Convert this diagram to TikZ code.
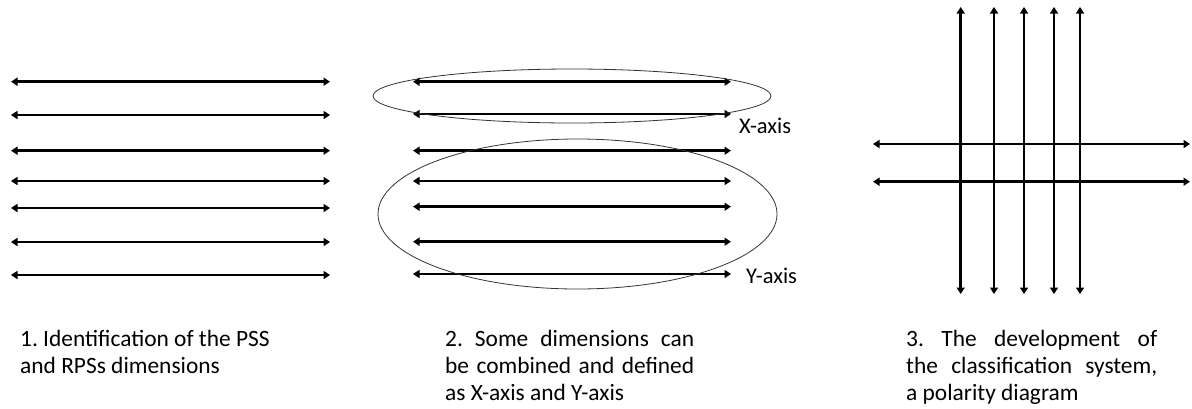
\documentclass[tikz,border=0pt]{standalone}
\usepackage{fontspec}
\setmainfont{Carlito}
\frenchspacing
\usetikzlibrary{arrows.meta}
\begin{document}
\begin{tikzpicture}[x=1pt,y=-1pt,
  dblarrow/.style={line width=2.6pt,{Triangle[length=6.5pt,width=8pt]}-{Triangle[length=6.5pt,width=8pt]}},
  ring/.style={line width=0.8pt,draw=black!80},
  caption/.style={anchor=base west,inner sep=0pt,font=\fontsize{23.4}{27}\selectfont},
  axislabel/.style={anchor=base west,inner sep=0pt,font=\fontsize{22.5}{27}\selectfont}]
\useasboundingbox (0,0) rectangle (1192,408);
% Panel 1
\foreach \yy [count=\i] in {81.7,115,150.7,181,208,242,275}{
  \coordinate (pa\i l) at (11,\yy);
  \coordinate (pa\i r) at (330,\yy);
  \draw[dblarrow] (pa\i l) -- (pa\i r);
}
% Panel 2
\foreach \yy [count=\i] in {81.7,114,150.7,181,206.7,241.7,274}{
  \coordinate (pb\i l) at (413,\yy);
  \coordinate (pb\i r) at (731,\yy);
  \draw[dblarrow] (pb\i l) -- (pb\i r);
}
\draw[ring] (572,96) ellipse [x radius=199, y radius=27];
\draw[ring] (577.5,214) ellipse [x radius=199.5, y radius=75];
\node[axislabel] (xlab) at (739,133) {X-axis};
\node[axislabel] (ylab) at (746,283) {Y-axis};
% Panel 3
\foreach \xx [count=\i] in {960.7,994,1024,1054,1080}{
  \coordinate (pv\i t) at (\xx,7);
  \coordinate (pv\i b) at (\xx,294);
  \draw[dblarrow] (pv\i t) -- (pv\i b);
}
\foreach \yy [count=\i] in {144,181.7}{
  \coordinate (ph\i l) at (873,\yy);
  \coordinate (ph\i r) at (1190,\yy);
  \draw[dblarrow] (ph\i l) -- (ph\i r);
}
% Captions
\node[caption] (cap1a) at (20,346) {1. Identification of the PSS};
\node[caption] (cap1b) at (20,373) {and RPSs dimensions};
\node[caption] (cap2a) at (445,346) {\makebox[249pt][s]{2. Some dimensions can}};
\node[caption] (cap2b) at (445,373) {\makebox[249pt][s]{be combined and defined}};
\node[caption] (cap2c) at (445,400) {as X-axis and Y-axis};
\node[caption] (cap3a) at (906,346) {\makebox[251pt][s]{3. The development of}};
\node[caption] (cap3b) at (906,373) {\makebox[251pt][s]{the classification system,}};
\node[caption] (cap3c) at (906,400) {a polarity diagram};
\end{tikzpicture}
\end{document}
